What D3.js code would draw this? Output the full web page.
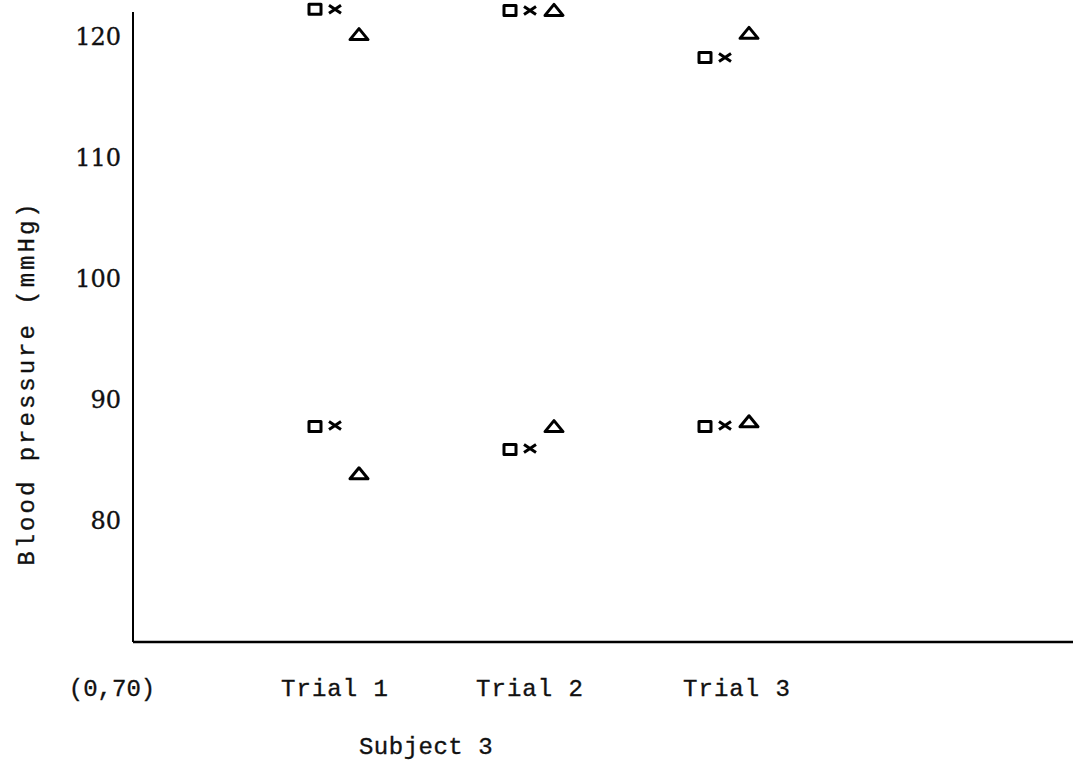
<!DOCTYPE html>
<html>
<head>
<meta charset="utf-8">
<script src="https://cdn.jsdelivr.net/npm/d3@7"></script>
<style>
  body { margin: 0; background: #fff; }
  svg { display: block; }
  text { fill: #111; stroke: #111; stroke-width: 0.35px; }
</style>
</head>
<body>
<div id="chart"></div>
<script>
// trials on the x axis
var trials = ["Trial 1", "Trial 2", "Trial 3"];
// three readings per trial (square, cross, triangle), systolic and diastolic
var squareHigh = [122.3, 122.2, 118.3];
var crossHigh = [122.3, 122.2, 118.3];
var triangleHigh = [120.2, 122.2, 120.3];
var squareLow = [87.8, 85.9, 87.8];
var crossLow = [87.9, 86.0, 87.9];
var triangleLow = [83.9, 87.8, 88.2];
var yTicks = [80, 90, 100, 110, 120];

var width = 1073, height = 769;

var svg = d3.select("#chart").append("svg")
  .attr("width", width)
  .attr("height", height);

var x = d3.scalePoint().domain(trials).range([335, 725]);
var y = d3.scaleLinear().domain([70, 120]).range([642, 37]);

var axisX0 = 133;

// axes lines
svg.append("line")
  .attr("x1", axisX0).attr("x2", axisX0)
  .attr("y1", 12).attr("y2", y(70))
  .attr("stroke", "#000").attr("stroke-width", 2);
svg.append("line")
  .attr("x1", axisX0).attr("x2", width)
  .attr("y1", y(70)).attr("y2", y(70))
  .attr("stroke", "#000").attr("stroke-width", 2.5);

// y tick labels
svg.selectAll(".ytick")
  .data(yTicks)
  .enter().append("text")
  .attr("class", "ytick")
  .attr("x", 121)
  .attr("y", function(d) { return y(d); })
  .attr("dy", "0.35em")
  .attr("text-anchor", "end")
  .style("font-family", "DejaVu Serif")
  .style("font-size", "24px")
  .text(function(d) { return d; });

// x tick labels
svg.selectAll(".xtick")
  .data(trials)
  .enter().append("text")
  .attr("class", "xtick")
  .attr("x", function(d, i) { return x(d) + (i == 2 ? 12 : 0); })
  .attr("y", 688)
  .attr("dy", "0.35em")
  .attr("text-anchor", "middle")
  .style("font-family", "Liberation Mono")
  .style("font-size", "24px")
  .style("letter-spacing", "1px")
  .text(function(d) { return d; });

svg.append("text")
  .attr("x", 112).attr("y", 688).attr("dy", "0.35em")
  .attr("text-anchor", "middle")
  .style("font-family", "Liberation Mono")
  .style("font-size", "24px")
  .text("(0,70)");

// axis titles
svg.append("text")
  .attr("x", 426).attr("y", 746).attr("dy", "0.35em")
  .attr("text-anchor", "middle")
  .style("font-family", "Liberation Mono")
  .style("font-size", "24px")
  .style("letter-spacing", "0.5px")
  .text("Subject 3");

svg.append("text")
  .attr("transform", "translate(26," + 383 + ") rotate(-90)")
  .attr("dy", "0.35em")
  .attr("text-anchor", "middle")
  .style("font-family", "Liberation Mono")
  .style("font-size", "24px")
  .style("letter-spacing", "3px")
  .text("Blood pressure (mmHg)");

// markers
function points(vals) {
  return vals.map(function(v, i) { return {trial: trials[i], value: v}; });
}
var squares = points(squareHigh).concat(points(squareLow));
var crosses = points(crossHigh).concat(points(crossLow));
var triangles = points(triangleHigh).concat(points(triangleLow));

var mark = svg.append("g")
  .attr("fill", "none")
  .attr("stroke", "#000")
  .attr("stroke-width", 3)
  .attr("stroke-linejoin", "round");

mark.selectAll(".sq")
  .data(squares)
  .enter().append("rect")
  .attr("x", function(d) { return x(d.trial) - 20 - 6; })
  .attr("y", function(d) { return y(d.value) - 5; })
  .attr("width", 12)
  .attr("height", 10);

mark.selectAll(".cr")
  .data(crosses)
  .enter().append("path")
  .attr("d", function(d) {
    var cx = x(d.trial), cy = y(d.value);
    return "M" + (cx - 6) + "," + (cy - 4) + "L" + (cx + 6) + "," + (cy + 4) +
           "M" + (cx - 6) + "," + (cy + 4) + "L" + (cx + 6) + "," + (cy - 4);
  });

mark.selectAll(".tr")
  .data(triangles)
  .enter().append("path")
  .attr("d", function(d) {
    var cx = x(d.trial) + 24, cy = y(d.value);
    return "M" + cx + "," + (cy - 6) + "L" + (cx + 9) + "," + (cy + 5) +
           "L" + (cx - 9) + "," + (cy + 5) + "Z";
  });
</script>
</body>
</html>
